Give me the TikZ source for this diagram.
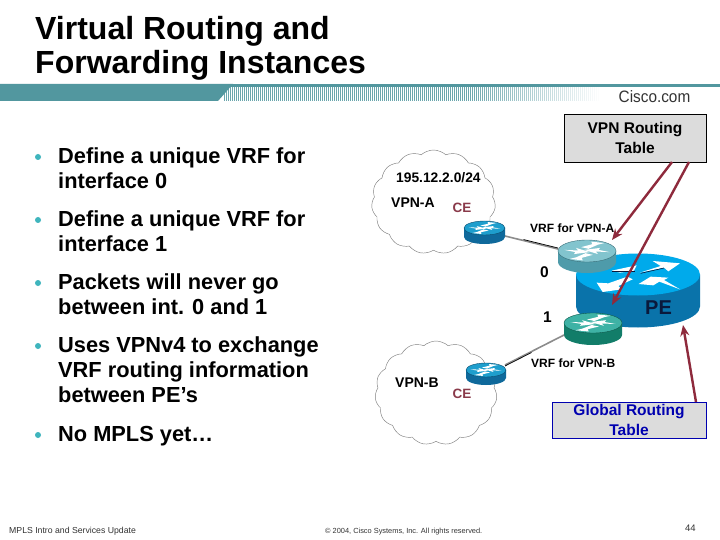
\documentclass[tikz,border=0pt]{standalone}
\usepackage{fontspec}
\setmainfont{Liberation Sans}
\usetikzlibrary{shapes.symbols,arrows.meta,calc}
\definecolor{teal1}{HTML}{52979F}
\definecolor{bulc}{HTML}{3FB5BD}
\definecolor{tipred}{HTML}{8E2A3C}
\definecolor{cered}{HTML}{8A3A4A}
\definecolor{boxgray}{HTML}{DCDCDC}
\definecolor{gblue}{HTML}{0000B0}
\definecolor{petop}{RGB}{0,170,235}
\definecolor{peside}{RGB}{10,115,170}
\definecolor{vatop}{RGB}{130,196,206}
\definecolor{vaside}{RGB}{78,155,170}
\definecolor{vbtop}{RGB}{62,178,165}
\definecolor{vbside}{RGB}{18,125,105}
\definecolor{cetop}{RGB}{30,158,205}
\definecolor{ceside}{RGB}{15,105,155}
\definecolor{pedark}{RGB}{10,25,60}
\tikzset{
 x=1pt,y=-1pt,
 fs/.style={font=\fontsize{#1}{#1}\selectfont\bfseries},
 lbl/.style={anchor=west,inner sep=0pt,align=left},
 bul/.style={anchor=north west,inner sep=0pt,align=left,font=\fontsize{21.8}{25}\selectfont\bfseries},
 cloudn/.style={cloud,cloud puffs=15,cloud puff arc=85,aspect=1.15,draw=black!50,line width=.45pt,fill=white,inner sep=0pt},
 tablebox/.style={draw=black,line width=.8pt,fill=boxgray,inner sep=0pt,align=center,font=\fontsize{15.5}{20}\selectfont\bfseries},
 redarrow/.style={draw=tipred,line width=2.4pt,-{Stealth[length=11pt,width=9pt]}},
 linkline/.style={draw=black!45,line width=1.6pt},
 linkdark/.style={draw=black,line width=.7pt},
}
% name, cx, cy (top ellipse), rx, ry, body height, top colour, side colour
\newcommand{\routerdraw}[8]{%
 \fill[#8] (#2-#4,#3) -- (#2-#4,#3+#6) arc[start angle=180,end angle=0,x radius=#4,y radius=#5] -- (#2+#4,#3) -- cycle;
 \filldraw[fill=#7,draw=#8!70!black,line width=.4pt] (#2,#3) ellipse[x radius=#4,y radius=#5];
 \begin{scope}[shift={(#2,#3)},x=#4*1pt,y=-#5*1pt]
  \fill[white] (-.78,-.1) -- (-.3,-.05) -- (-.38,-.28) -- (.1,.1) -- (-.45,.28) -- (-.4,.1) -- cycle;
  \fill[white] (.78,.1) -- (.3,.05) -- (.38,.28) -- (-.1,-.1) -- (.45,-.28) -- (.4,-.1) -- cycle;
  \fill[white] (-.15,.85) -- (-.6,.72) -- (-.38,.58) -- (-.05,.2) -- (.2,.35) -- (-.18,.62) -- cycle;
  \fill[white] (.15,-.85) -- (.6,-.72) -- (.38,-.58) -- (.05,-.2) -- (-.2,-.35) -- (.18,-.62) -- cycle;
 \end{scope}
 \node[minimum width=2*#4*1pt,minimum height=2*#5*1pt+#6*1pt,inner sep=0pt] (#1) at (#2,#3+#6/2) {};
}
% plain cylinder for the large router
\newcommand{\cylinderdraw}[8]{%
 \fill[#8] (#2-#4,#3) -- (#2-#4,#3+#6) arc[start angle=180,end angle=0,x radius=#4,y radius=#5] -- (#2+#4,#3) -- cycle;
 \fill[#7] (#2,#3) ellipse[x radius=#4,y radius=#5];
 \node[minimum width=2*#4*1pt,minimum height=2*#5*1pt+#6*1pt,inner sep=0pt] (#1) at (#2,#3+#6/2) {};
}
\begin{document}
\begin{tikzpicture}
\useasboundingbox (0,0) rectangle (720,540);
\fill[white] (0,0) rectangle (720,540);
% title
\node[lbl,fs=32] (t1) at (35,31) {Virtual Routing and};
\node[lbl,fs=32] (t2) at (35,65) {Forwarding Instances};
% banner
\fill[teal1] (0,84) rectangle (720,87);
\fill[teal1] (0,84) -- (233,84) -- (218,101) -- (0,101) -- cycle;
\foreach \x in {224,226,...,600}{
 \pgfmathsetmacro{\op}{\x<470?.85:max(0,.85*(600-\x)/130)}
 \fill[teal1,opacity=\op] (\x,87) rectangle +(1.2,14);
}
\node[anchor=center,inner sep=0pt,text=black!80,font=\fontsize{16.5}{16}\selectfont,xscale=.93] (logo) at (654.5,96.5) {Cisco.com};
% bullets
\foreach \y in {157,220,283,346,435}{\fill[bulc] (38,\y) circle (3pt);}
\node[bul] (b1) at (58,148) {Define a unique VRF for\\interface 0};
\node[bul] (b2) at (58,211) {Define a unique VRF for\\interface 1};
\node[bul] (b3) at (58,274) {Packets will never go\\between int. 0 and 1};
\node[bul] (b4) at (58,337) {Uses VPNv4 to exchange\\VRF routing information\\between PE’s};
\node[bul] (b5) at (58,426) {No MPLS yet…};
% clouds
\node[cloudn,minimum width=124pt,minimum height=104pt] (cla) at (433.5,202) {};
\node[cloudn,minimum width=122pt,minimum height=104pt] (clb) at (436,393) {};
\node[lbl,fs=13.8] (n195) at (396,178) {195.12.2.0/24};
\node[lbl,fs=14] (vpna) at (391,202.5) {VPN-A};
\node[lbl,fs=13.5,text=cered] (cea-l) at (452.5,208) {CE};
\node[lbl,fs=14] (vpnb) at (395,383) {VPN-B};
\node[lbl,fs=13.5,text=cered] (ceb-l) at (452.5,393.5) {CE};
% PE
\cylinderdraw{pe}{638}{274.5}{62}{21}{32}{petop}{peside}
\begin{scope}[shift={(540,230)},x=.3333pt,y=-.3333pt]
 \fill[white] (300,128) -- (362,108) -- (338,93) -- (420,100) -- (385,124) -- (372,113) -- cycle;
 \fill[white] (296,162) -- (332,140) -- (385,143) -- (372,150) -- (420,178) -- (358,155) -- (340,166) -- cycle;
 \fill[white] (170,158) -- (205,160) -- (262,140) -- (278,148) -- (235,168) -- (245,178) -- (188,186) -- cycle;
 \fill[white] (215,122) -- (290,106) -- (282,122) -- (240,128) -- cycle;
 \draw[pedark,line width=.6pt] (215,124) -- (285,124);
 \draw[pedark,line width=.6pt] (302,130) -- (372,114);
\end{scope}
% VRF routers
\routerdraw{vrfa}{587}{251}{29}{11}{11}{vatop}{vaside}
\routerdraw{vrfb}{593}{323}{29}{10}{12}{vbtop}{vbside}
% CE routers
\routerdraw{cea}{484.5}{228}{20.5}{7}{9}{cetop}{ceside}
\routerdraw{ceb}{486}{370}{20}{7}{8}{cetop}{ceside}
% links
\coordinate (ca) at (505,236); \coordinate (va) at (558,249);
\coordinate (cb) at (505,365); \coordinate (vb) at (564,335);
\draw[linkline] (ca) -- (va);
\draw[linkdark] ([yshift=1pt]$(ca)!.35!(va)$) -- ([yshift=1pt]va);
\draw[linkline] (cb) -- (vb);
\draw[linkdark] ([yshift=-1pt]cb) -- ([yshift=-1pt]$(cb)!.45!(vb)$);
% labels
\node[lbl,fs=12] (vrfal) at (530,228) {VRF for VPN-A};
\node[lbl,fs=12] (vrfbl) at (531,363) {VRF for VPN-B};
\node[lbl,fs=15.5] (l0) at (540,272) {0};
\node[lbl,fs=15.5] (l1) at (543,317) {1};
\node[lbl,fs=20,text=pedark] (pel) at (645,308) {PE};
% tables
\node[tablebox,minimum width=142pt,minimum height=48pt] (vpnt) at (635,138) {VPN Routing\\Table};
\node[tablebox,minimum width=154pt,minimum height=36pt,draw=gblue,text=gblue] (gt) at (629,420) {Global Routing\\Table};
% arrows
\coordinate (a1s) at (672,162); \coordinate (a1e) at (612,240);
\coordinate (a2s) at (689,162); \coordinate (a2e) at (612,305);
\coordinate (a3s) at (696,402); \coordinate (a3e) at (683,325);
\draw[redarrow] (a1s) -- (a1e);
\draw[redarrow] (a2s) -- (a2e);
\draw[redarrow] (a3s) -- (a3e);
% footer
\node[lbl,font=\fontsize{8.7}{10}\selectfont,text=black!80] (f1) at (9,531) {MPLS Intro and Services Update};
\node[lbl,font=\fontsize{7.4}{8}\selectfont,text=black!80] (f2) at (325,532) {© 2004, Cisco Systems, Inc. All rights reserved.};
\node[lbl,font=\fontsize{9.5}{10}\selectfont,text=black!80] (f3) at (685,528) {44};
\end{tikzpicture}
\end{document}
